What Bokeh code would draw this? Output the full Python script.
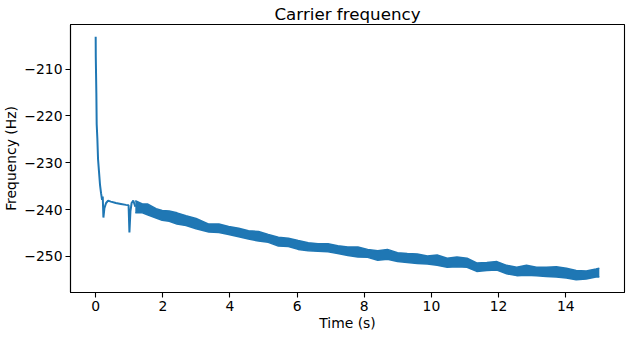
from bokeh.plotting import figure
from bokeh.models import FixedTicker
from bokeh.embed import file_html
from bokeh.resources import INLINE

# Initial transient (thin line), time in s, frequency in Hz
t_fast = [0.0, 0.003, 0.02, 0.03, 0.05, 0.07, 0.10, 0.13, 0.16, 0.19, 0.21, 0.23,
          0.26, 0.31, 0.37, 0.45, 0.60, 0.75, 0.90, 0.98, 1.005, 1.035, 1.07, 1.12, 1.18]
f_fast = [-203.1, -207.4, -215.1, -221.8, -224.9, -229.2, -232.0, -234.8, -236.5, -237.9,
          -237.2, -241.7, -239.7, -238.6, -238.1, -238.3, -238.6, -238.8, -239.0, -239.1,
          -244.9, -240.4, -238.6, -238.1, -239.4]

# Noisy part: upper and lower edges of the trace
t_band = [1.18, 1.39, 1.54, 1.80, 1.98, 2.19, 2.42, 2.69, 2.99, 3.37, 3.67, 3.96, 4.26,
          4.55, 4.85, 5.14, 5.44, 5.74, 6.03, 6.33, 6.62, 6.92, 7.21, 7.51, 7.81, 8.10,
          8.40, 8.69, 8.99, 9.28, 9.58, 9.88, 10.17, 10.47, 10.76, 11.06, 11.35, 11.65,
          11.95, 12.24, 12.54, 12.83, 13.13, 13.42, 13.72, 14.02, 14.31, 14.61, 14.90, 15.0]
f_upper = [-238.1, -238.8, -238.8, -239.8, -240.2, -240.3, -240.7, -241.3, -241.9, -243.1,
           -243.1, -243.6, -244.0, -244.5, -244.7, -245.3, -245.9, -246.1, -246.6, -247.1,
           -247.3, -247.3, -247.7, -248.0, -248.0, -248.5, -248.8, -248.5, -249.2, -249.4,
           -249.5, -249.9, -249.7, -250.4, -250.1, -250.4, -251.4, -251.3, -251.1, -251.9,
           -252.3, -251.9, -252.3, -252.3, -252.2, -252.5, -253.0, -253.1, -252.7, -252.5]
f_lower = [-240.7, -240.7, -241.1, -241.8, -242.3, -242.5, -243.1, -243.4, -244.1, -244.8,
           -244.9, -245.3, -245.8, -246.3, -246.7, -247.0, -247.8, -247.9, -248.5, -248.8,
           -248.9, -249.0, -249.4, -249.8, -250.1, -250.2, -250.8, -250.6, -251.1, -251.3,
           -251.5, -251.6, -251.9, -252.3, -252.2, -252.3, -253.2, -253.0, -252.9, -253.7,
           -254.1, -254.0, -254.1, -254.3, -254.4, -254.6, -255.0, -254.8, -254.4, -254.4]

x_ticks = [0, 2, 4, 6, 8, 10, 12, 14]
y_ticks = [-250, -240, -230, -220, -210]

BLUE = "#1f77b4"
FONT = "DejaVu Sans"

p = figure(frame_width=554, frame_height=268, output_backend="svg", toolbar_location=None,
           x_range=(-0.75, 15.75), y_range=(-257.7, -200.5),
           title="Carrier frequency",
           min_border_left=63, min_border_right=2, min_border_top=19, min_border_bottom=38)

p.title.align = "center"
p.title.text_font = FONT
p.title.text_font_size = "16.7px"
p.title.text_font_style = "normal"
p.title.text_color = "black"
p.title.standoff = 2

p.varea(x=t_band, y1=f_lower, y2=f_upper, color=BLUE)
p.line(t_band, f_upper, line_color=BLUE, line_width=1.5)
p.line(t_band, f_lower, line_color=BLUE, line_width=1.5)
p.line(t_fast, f_fast, line_color=BLUE, line_width=2)

p.grid.visible = False
p.background_fill_color = "white"
p.border_fill_color = "white"
p.outline_line_color = "black"
p.outline_line_width = 1.1

for ax in (p.xaxis[0], p.yaxis[0]):
    ax.axis_line_color = "black"
    ax.axis_line_width = 1.1
    ax.major_tick_out = 5
    ax.major_tick_in = 0
    ax.major_tick_line_width = 1.1
    ax.minor_tick_line_color = None
    ax.major_label_text_font = FONT
    ax.major_label_text_font_size = "13.9px"
    ax.major_label_text_color = "black"
    ax.axis_label_text_font = FONT
    ax.axis_label_text_font_size = "13.9px"
    ax.axis_label_text_font_style = "normal"
    ax.axis_label_text_color = "black"
    ax.major_label_standoff = 3

p.xaxis.ticker = FixedTicker(ticks=x_ticks)
p.yaxis.ticker = FixedTicker(ticks=y_ticks)
p.yaxis.major_label_overrides = {v: "\u2212" + str(abs(v)) for v in y_ticks}
p.xaxis.axis_label = "Time (s)"
p.yaxis.axis_label = "Frequency (Hz)"
p.xaxis.axis_label_standoff = 1
p.yaxis.axis_label_standoff = 2

open("out.html", "w").write(file_html(p, INLINE))
